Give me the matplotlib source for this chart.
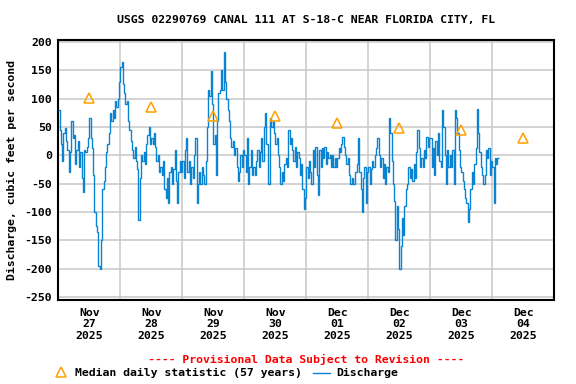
import numpy as np
import pandas as pd
import matplotlib
matplotlib.use('Agg')
import matplotlib.pyplot as plt
import matplotlib.dates as mdates
from matplotlib.lines import Line2D
from matplotlib.ticker import NullFormatter

# ---------------- data ----------------
title = "USGS 02290769 CANAL 111 AT S-18-C NEAR FLORIDA CITY, FL"
ylabel = "Discharge, cubic feet per second"
start = "2025-11-27 00:00"
freq = "30min"

day1 = [80, 45, 20, -10, 40, 48, 25, 10, -30, 5, 60, 30, 35, -15, 10, 25, -20, 5, -40, -65,
        10, 5, 15, 30, 65, 30, 13, -35, -100, -125, -135, -195, -200, -150, -60, -45, -20, 5, 20, 40,
        75, 60, 80, 65, 95, 85, 100, 130]
day2 = [155, 165, 125, 110, 90, 95, 60, 45, 25, 10, -5, 15, -10, -25, -115, -40, 0, -10, 5, -15,
        20, 35, 50, 20, 30, 20, 40, 15, -10, 0, -30, -20, -35, -10, -60, -75, -40, -85, -30, -20,
        -50, -25, 10, -45, -85, -30, -10, -30]
day3 = [-10, -40, 10, 30, -30, -10, -50, -20, -40, 0, 30, -85, -50, -30, -50, -20, -35, -50, -10, 50,
        115, 105, 148, 90, 20, 35, -35, 60, 110, 115, 150, 115, 182, 130, 100, 80, 60, 30, 15, 25,
        0, 13, -20, -45, -30, 0, -20, 10]
day4 = [0, -30, 30, -50, -20, 10, -35, -20, -35, -10, 10, -20, 5, 30, -10, 50, 75, 20, -50, -50,
        65, 50, 60, 40, 20, 30, 0, -20, -50, -30, -45, -15, -5, -20, 45, 20, 30, 10, -10, 15,
        -20, 5, -5, -35, -15, -60, -95, -75]
day5 = [-20, -40, -10, -30, -50, 10, -20, 15, -35, -70, 10, -20, 13, -5, 15, -15, 5, -5, 0, -20,
        0, -20, -5, -20, -5, 13, 5, 20, 32, 15, 0, -15, -5, -35, -50, -40, -50, -50, -30, -15,
        30, -30, -60, -100, -40, -20, -85, -30]
day6 = [-20, -50, -25, -10, -20, 0, 13, 30, 0, -20, -5, -40, -15, -50, -20, -30, 65, 40, -10, -50,
        -80, -150, -90, -130, -200, -160, -110, -140, -90, -60, -50, -20, -40, -25, -45, -15, -40, 5, 45, 13,
        -20, -5, -20, 10, -5, 32, 15, 30]
day7 = [30, -20, 13, -35, 25, 0, 40, -10, -20, 80, 50, 0, -50, 10, -20, 0, -20, 10, -50, 80,
        65, 40, 10, -20, -30, -45, -60, -75, -85, -118, -95, -60, -30, -50, -15, 13, 82, 40, 5, -20,
        -35, -50, -35, 10, -5, 13, -35, -10]
day8 = [-20, -85, -5, -15, -5]

median_days = ["2025-11-27", "2025-11-28", "2025-11-29", "2025-11-30",
               "2025-12-01", "2025-12-02", "2025-12-03", "2025-12-04"]
median_vals = [102, 85, 69, 70, 57, 49, 45, 30]

yticks = [-250, -200, -150, -100, -50, 0, 50, 100, 150, 200]
xstart, xend = "2025-11-27", "2025-12-05"

# ---------------- styling ----------------
plt.rcParams['font.family'] = ['DejaVu Sans Mono']
plt.rcParams['font.weight'] = 'bold'
FS = 8.25
BLUE = '#0A84D0'
ORANGE = '#FFA000'
GRID = '#C8C8C8'

W, H = 576, 384
fig = plt.figure(figsize=(W / 100, H / 100), dpi=100)
L, R, T, B = 58.3, 554.3, 39.7, 299.5
ax = fig.add_axes([L / W, 1 - B / H, (R - L) / W, (B - T) / H])

values = np.array(day1 + day2 + day3 + day4 + day5 + day6 + day7 + day8, dtype=float)
edges = pd.date_range(start, periods=len(values) + 1, freq=freq)
ax.stairs(values, mdates.date2num(edges.to_pydatetime()), baseline=None,
          color=BLUE, lw=1.0, zorder=3)

mdt = pd.to_datetime(median_days) + pd.Timedelta(hours=12)
ax.plot(mdates.date2num(mdt.to_pydatetime()), median_vals, linestyle='none', marker='^',
        markersize=7.5, markerfacecolor='none', markeredgecolor=ORANGE, markeredgewidth=1.1,
        zorder=4)

ax.set_xlim(mdates.date2num(pd.Timestamp(xstart)), mdates.date2num(pd.Timestamp(xend)))
ax.set_ylim(-254.4, 204)
ax.set_yticks(yticks)
ax.set_yticklabels([str(v) for v in yticks], fontsize=FS, fontweight='bold')

ax.xaxis.set_major_locator(mdates.DayLocator())
ax.xaxis.set_major_formatter(NullFormatter())
ax.xaxis.set_minor_locator(mdates.HourLocator(byhour=12))
ax.xaxis.set_minor_formatter(mdates.DateFormatter('%b\n%d\n%Y'))
ax.tick_params(axis='x', which='minor', length=0, pad=6, labelsize=FS)
ax.tick_params(axis='x', which='major', length=0)
ax.tick_params(axis='y', length=0, pad=4.5, labelsize=FS)

ax.grid(True, which='major', color=GRID, lw=1.1)
ax.set_axisbelow(True)
for s in ax.spines.values():
    s.set_linewidth(1.5)
    s.set_color('black')

cx = (L + R) / 2 / W
fig.text(cx, 1 - 19.5 / H, title, ha='center', va='center', fontsize=FS, fontweight='bold')
fig.text(12 / W, 1 - 170 / H, ylabel, rotation=90, ha='center', va='center',
         fontsize=FS, fontweight='bold')
fig.text(cx, 1 - 359 / H, "---- Provisional Data Subject to Revision ----", ha='center',
         va='center', fontsize=FS, fontweight='bold', color='red')

# legend
ly = 1 - 372.5 / H
fig.add_artist(Line2D([60.7 / W], [1 - 371.7 / H], transform=fig.transFigure, linestyle='none',
                      marker='^', markersize=7.5, markerfacecolor='none',
                      markeredgecolor=ORANGE, markeredgewidth=1.1))
fig.text(75 / W, ly, "Median daily statistic (57 years)", ha='left', va='center',
         fontsize=FS, fontweight='bold')
fig.add_artist(Line2D([313 / W, 330 / W], [ly, ly], transform=fig.transFigure,
                      color=BLUE, lw=1.0))
fig.text(336 / W, ly, "Discharge", ha='left', va='center', fontsize=FS, fontweight='bold')

fig.savefig('out.png', dpi=100)
